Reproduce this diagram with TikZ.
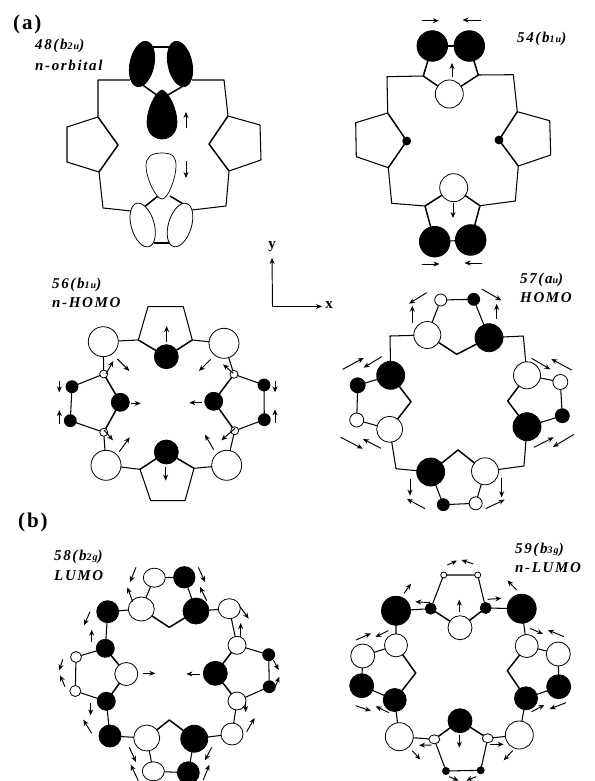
\documentclass[tikz,border=0pt]{standalone}
\usepackage{fontspec}
\setmainfont{Liberation Serif}
\newfontfamily\lblf[LetterSpace=11]{Liberation Serif}
\newfontfamily\hdf[LetterSpace=9]{Liberation Serif}
\usetikzlibrary{arrows.meta,shapes.geometric}
\tikzset{
  ln/.style={line width=1.05pt,line join=round},
  thk/.style={line width=1.5pt,line join=round},
  orb/.style={circle,draw=black,line width=0.8pt,inner sep=0pt,outer sep=0pt},
  lobe/.style={ellipse,draw=black,line width=0.8pt,inner sep=0pt,outer sep=0pt},
  mo/.style={line width=0.95pt,-{Stealth[length=6pt,width=5pt]}},
  lbl/.style={anchor=west,inner sep=0pt,font=\lblf\fontsize{15}{16}\selectfont\bfseries\itshape},
  hd/.style={anchor=west,inner sep=0pt,font=\hdf\fontsize{21}{22}\selectfont\bfseries},
  axl/.style={inner sep=0pt,font=\fontsize{15}{15}\selectfont\bfseries},
  zm/.style={x=0.33333pt,y=-0.33333pt}
}
\newcommand{\WA}[4]{\node[orb,fill=white,minimum size=2*#4 pt] (#1) at (#2,#3) {};}
\newcommand{\BA}[4]{\node[orb,fill=black,minimum size=2*#4 pt] (#1) at (#2,#3) {};}
\newcommand{\WE}[5]{\node[lobe,fill=white,minimum width=2*#4 pt,minimum height=2*#5 pt] (#1) at (#2,#3) {};}
\newcommand{\BE}[5]{\node[lobe,fill=black,minimum width=2*#4 pt,minimum height=2*#5 pt] (#1) at (#2,#3) {};}
\newcommand{\VT}[3]{\coordinate (#1) at (#2,#3);}
\newcommand{\AR}[4]{\draw[mo] (#1,#2) -- (#3,#4);}
\newcommand{\SB}[1]{{\fontsize{10}{10}\selectfont #1}}
\begin{document}
\begin{tikzpicture}[x=1pt,y=-1pt]
\useasboundingbox (0,0) rectangle (594,781);
\fill[white] (0,0) rectangle (594,781);

% ---- headings and labels
\node[hd] (ha) at (13,24) {(a)};
\node[hd] (hb) at (18,522) {(b)};
\node[lbl] (l48) at (35,46) {48(b\SB{2u})};
\node[lbl] (l48b) at (35,65) {n-orbital};
\node[lbl] (l54) at (517,39) {54(b\SB{1u})};
\node[lbl] (l56) at (52,285) {56(b\SB{1u})};
\node[lbl] (l56b) at (52,303) {n-HOMO};
\node[lbl] (l57) at (520,280) {57(a\SB{u})};
\node[lbl] (l57b) at (520,298) {HOMO};
\node[lbl] (l58) at (54,557) {58(b\SB{2g})};
\node[lbl] (l58b) at (54,576) {LUMO};
\node[lbl] (l59) at (515,550) {59(b\SB{3g})};
\node[lbl] (l59b) at (515,568) {n-LUMO};

% ---- axes
\coordinate (ax0) at (272.5,306.5);
\node[axl] (axy) at (272,247) {y};
\node[axl] (axx) at (329,305) {x};
\draw[mo] (ax0) -- (axy.south |- 0,258);
\draw[mo] (ax0) -- (322,306.5);

% ---- panel 48
\VT{p1}{130}{80}\VT{p2}{98}{80}\VT{p3}{98}{117}\VT{p4}{67}{127}\VT{p5}{67}{162}\VT{p6}{99}{172}\VT{p7}{118}{145}
\VT{p8}{103}{208}\VT{p9}{131}{211}\VT{p10}{192}{80}\VT{p11}{224}{80}\VT{p12}{228}{116}\VT{p13}{260}{125}\VT{p14}{261}{160}
\VT{p15}{229}{171}\VT{p16}{209}{144}\VT{p17}{226}{206}\VT{p18}{192}{210}
\VT{p19}{153}{47}\VT{p20}{169}{47}\VT{p21}{154}{243}\VT{p22}{170}{243}
\VT{p23}{140}{83}\VT{p24}{158}{96}\VT{p25}{166}{96}\VT{p26}{185}{85}
\VT{p27}{143}{208}\VT{p28}{158}{196}\VT{p29}{170}{196}\VT{p30}{185}{205}
\draw[ln] (p1) -- (p2) -- (p3) -- (p4) -- (p5) -- (p6) -- (p8) -- (p9);
\draw[ln] (p10) -- (p11) -- (p12) -- (p13) -- (p14) -- (p15) -- (p17) -- (p18);
\draw[thk] (p3) -- (p7) -- (p6);
\draw[thk] (p12) -- (p16) -- (p15);
\draw[ln] (p19) -- (p20);
\draw[ln] (p21) -- (p22);
\draw[thk] (p23) -- (p24);
\draw[thk] (p25) -- (p26);
\draw[thk] (p27) -- (p28);
\draw[thk] (p29) -- (p30);
\node[lobe,fill=black,minimum width=46pt,minimum height=24pt,rotate=78] (tl) at (142,64) {};
\node[lobe,fill=black,minimum width=46pt,minimum height=24pt,rotate=102] (tr) at (180,64) {};
\node[lobe,fill=white,minimum width=45pt,minimum height=23pt,rotate=106] (bl) at (142.7,225) {};
\node[lobe,fill=white,minimum width=45pt,minimum height=23pt,rotate=73] (br) at (180,225) {};
\draw[fill=black,line width=0.7pt] (162,90) .. controls (155,92) and (147,110) .. (147,122) .. controls (147,134) and (155,139) .. (162,139) .. controls (169,139) and (177,134) .. (177,122) .. controls (177,110) and (169,92) .. (162,90) -- cycle;
\draw[fill=white,line width=0.7pt] (162,153) .. controls (150,153) and (146,158) .. (146,166) .. controls (146,178) and (156,199) .. (162,199) .. controls (168,199) and (176,178) .. (176,166) .. controls (176,158) and (174,153) .. (162,153) -- cycle;
\AR{186}{128}{186}{112}
\AR{186}{161}{186}{178}

% ---- panel 54
\BA{a1}{432.3}{46}{15.3}\BA{a2}{469.3}{46}{15.3}\BA{a3}{434.7}{241.7}{15.3}\BA{a4}{470.7}{240}{15.3}
\WA{a5}{449.3}{94}{14}\WA{a6}{453.7}{187.7}{14}\BA{a7}{406.7}{141}{4}\BA{a8}{499}{140}{4}
\VT{q1}{423.3}{76}\VT{q2}{478.3}{75}\VT{q3}{387}{76.7}\VT{q4}{387.7}{113}\VT{q5}{355.7}{122.7}\VT{q6}{356.3}{156.7}
\VT{q7}{388.3}{167.7}\VT{q8}{391.7}{203.3}\VT{q9}{425}{206}\VT{q10}{480}{205.7}\VT{q11}{515.3}{201}\VT{q12}{518.3}{166}
\VT{q13}{550.7}{155}\VT{q14}{549.7}{120.7}\VT{q15}{517.3}{111.7}\VT{q16}{513.3}{74.7}
\draw[ln] (q1) -- (q3) -- (q4) -- (q5) -- (q6) -- (q7) -- (q8) -- (q9);
\draw[ln] (q10) -- (q11) -- (q12) -- (q13) -- (q14) -- (q15) -- (q16) -- (q2);
\draw[thk] (q4) -- (a7) -- (q7);
\draw[thk] (q15) -- (a8) -- (q12);
\draw[thk] (a1) -- (q1) -- (a5) -- (q2) -- (a2);
\draw[ln] (a1) -- (a2);
\draw[thk] (a3) -- (q9) -- (a6) -- (q10) -- (a4);
\draw[ln] (a3) -- (a4);
\AR{421.7}{20.7}{438.8}{20.7}\AR{480.7}{20}{462.5}{20}
\AR{452}{77}{452}{63}\AR{453}{203}{453}{218}
\AR{421.7}{264}{439.5}{264}\AR{482.3}{263}{464.5}{263}

% ---- panel 56
\BA{c1}{166.3}{356.7}{12}\BA{c2}{166.3}{452}{12}
\WA{c3}{103.3}{341.7}{15}\WA{c4}{224}{343.3}{15}\WA{c5}{106}{465.3}{15}\WA{c6}{226.7}{465.3}{15}
\WA{c7}{103.7}{374}{4}\WA{c8}{234}{374.3}{4}\WA{c9}{103.7}{432.3}{4}\WA{c10}{234.7}{430.7}{4}
\BA{c11}{120.3}{402.3}{9}\BA{c12}{213.7}{401.3}{9}
\BA{c13}{72}{386.7}{6}\BA{c14}{70.3}{420.7}{6}\BA{c15}{264}{385}{6}\BA{c16}{264.3}{419.7}{6}
\VT{r1}{148}{306.7}\VT{r2}{183.3}{306.7}\VT{r3}{192.3}{340}\VT{r4}{138.3}{340}
\VT{r5}{140}{469.3}\VT{r6}{194}{468.3}\VT{r7}{185}{500.7}\VT{r8}{150.7}{500.7}
\draw[ln] (c3) -- (r4) -- (r1) -- (r2) -- (r3) -- (c4);
\draw[ln] (c5) -- (r5) -- (r8) -- (r7) -- (r6) -- (c6);
\draw[thk] (r4) -- (c1) -- (r3);
\draw[thk] (r5) -- (c2) -- (r6);
\draw[ln] (c3) -- (c7) -- (c13) -- (c14) -- (c9) -- (c5);
\draw[ln] (c4) -- (c8) -- (c15) -- (c16) -- (c10) -- (c6);
\draw[thk] (c7) -- (c11) -- (c9);
\draw[thk] (c8) -- (c12) -- (c10);
\begin{scope}[shift={(0,260)},zm]
\AR{500}{245}{500}{198}\AR{178}{363}{178}{397}\AR{178}{492}{178}{450}\AR{825}{363}{825}{397}\AR{825}{490}{825}{448}
\AR{318}{342}{340}{303}\AR{352}{297}{388}{333}\AR{632}{298}{597}{333}\AR{700}{340}{669}{313}
\AR{392}{430}{422}{430}\AR{605}{428}{568}{428}\AR{358}{575}{389}{532}\AR{312}{510}{339}{541}
\AR{641}{569}{615}{524}\AR{705}{505}{664}{541}\AR{497}{620}{497}{662}
\end{scope}

% ---- panel 57
\WA{d1}{427.3}{335}{13.5}\BA{d2}{489}{337.7}{14}\WA{d3}{440.7}{300}{6}\BA{d4}{473.7}{299.3}{6}
\BA{d5}{390.7}{375.3}{14}\BA{d6}{357.7}{385.3}{7.5}\WA{d7}{356.7}{420}{7}\WA{d8}{389.7}{429.3}{13}
\BA{d9}{430.7}{472}{14}\WA{d10}{485}{471.3}{13.5}\BA{d11}{443.3}{504.7}{6}\WA{d12}{475.7}{503.3}{6.5}
\BA{d13}{527}{426.7}{14}\WA{d14}{527}{375.3}{13.5}\WA{d15}{560.3}{382}{7.5}\BA{d16}{562.3}{415.7}{7}
\VT{s1}{456.7}{354.3}\VT{s2}{390}{336}\VT{s3}{411}{401.7}\VT{s4}{396}{468.7}\VT{s5}{458}{450}\VT{s6}{524}{466}\VT{s7}{507.7}{401}\VT{s8}{523.3}{336}
\draw[ln] (d1) -- (s2) -- (d5);
\draw[ln] (d8) -- (s4) -- (d9);
\draw[ln] (d10) -- (s6) -- (d13);
\draw[ln] (d14) -- (s8) -- (d2);
\draw[ln] (d1) -- (d3) -- (d4) -- (d2);
\draw[thk] (d1) -- (s1) -- (d2);
\draw[ln] (d5) -- (d6) -- (d7) -- (d8);
\draw[thk] (d5) -- (s3) -- (d8);
\draw[ln] (d9) -- (d11) -- (d12) -- (d10);
\draw[thk] (d9) -- (s5) -- (d10);
\draw[ln] (d14) -- (d15) -- (d16) -- (d13);
\draw[thk] (d14) -- (s7) -- (d13);
\begin{scope}[shift={(320,270)},zm]
\AR{320}{68}{267}{101}\AR{485}{57}{544}{91}\AR{277}{160}{277}{107}\AR{530}{148}{530}{102}
\AR{635}{265}{691}{298}\AR{755}{300}{694}{267}\AR{68}{298}{131}{264}\AR{185}{260}{131}{293}
\AR{62}{502}{128}{536}\AR{183}{535}{129}{507}\AR{642}{532}{701}{502}\AR{762}{493}{699}{531}
\AR{270}{627}{270}{677}\AR{545}{625}{545}{682}\AR{315}{716}{261}{687}\AR{497}{716}{554}{689}
\end{scope}

% ---- panel 58
\WE{e1}{154.3}{577.7}{11}{9.5}\BA{e2}{184.3}{577.3}{10.7}\WE{e3}{141.3}{609}{13}{12}\BA{e4}{196}{611}{13}
\BA{e5}{107.7}{611.7}{11}\WE{e6}{229.3}{608.7}{11}{10}\BA{e7}{105.3}{648.3}{9}\WA{e8}{76}{657}{5.5}
\WA{e9}{75.3}{691}{5.5}\WA{e10}{126.3}{674}{11.5}\BA{e11}{106.3}{701.3}{9}\BA{e12}{110}{736}{11}
\WA{e13}{146.7}{738}{13}\BA{e14}{194.3}{738.7}{13.5}\WA{e15}{232}{734}{11}\WA{e16}{237}{701}{9}
\BA{e17}{215.3}{673.3}{12}\WA{e18}{237}{645.3}{9}\BA{e19}{268.7}{654.7}{6}\BA{e20}{269.3}{686.7}{6}
\WE{e21}{153.3}{771.3}{11}{9.5}\BA{e22}{188.3}{772.7}{11}
\VT{t1}{169.3}{627.3}\VT{t2}{169.3}{720}
\draw[ln] (e1) -- (e2) -- (e4) -- (e6) -- (e18) -- (e19) -- (e20) -- (e16) -- (e15) -- (e14) -- (e22) -- (e21) -- (e13) -- (e12) -- (e11) -- (e9) -- (e8) -- (e7) -- (e5) -- (e3) -- (e1);
\draw[thk] (e3) -- (t1) -- (e4);
\draw[thk] (e13) -- (t2) -- (e14);
\draw[thk] (e7) -- (e10) -- (e11);
\draw[thk] (e18) -- (e17) -- (e16);
\begin{scope}[shift={(0,510)},zm]
\AR{408}{172}{390}{216}\AR{595}{172}{615}{216}\AR{398}{275}{382}{232}\AR{620}{272}{600}{231}
\AR{270}{305}{252}{346}\AR{720}{290}{746}{326}\AR{275}{395}{275}{359}\AR{722}{380}{722}{339}
\AR{188}{448}{178}{481}\AR{195}{530}{180}{496}\AR{820}{450}{836}{480}\AR{822}{540}{838}{500}
\AR{428}{490}{466}{490}\AR{600}{492}{559}{492}\AR{272}{580}{272}{616}\AR{737}{575}{737}{606}
\AR{275}{670}{250}{629}\AR{740}{665}{764}{624}\AR{388}{712}{408}{756}\AR{415}{812}{392}{764}
\AR{635}{712}{615}{751}\AR{610}{810}{628}{764}
\end{scope}

% ---- panel 59
\WA{f1}{443.7}{575}{3}\WA{f2}{477.7}{575}{3}\BA{f3}{430.7}{608.7}{5.5}\BA{f4}{485.7}{608}{5.5}
\WA{f5}{460}{627.7}{12}\BA{f6}{396}{610.7}{14.5}\BA{f7}{521.7}{608.7}{14.5}\WA{f8}{396}{645.3}{11.5}
\WA{f9}{362.7}{656}{12}\BA{f10}{361.7}{685.7}{12}\BA{f11}{394.7}{700}{11.5}\WA{f12}{399.3}{736.7}{14}
\WE{f13}{434.3}{739.3}{5.5}{4.5}\WE{f14}{487.7}{738.3}{5.5}{4.5}\BA{f15}{460}{720.7}{12}\WA{f16}{519.3}{735}{14}
\BA{f17}{446}{771}{3.5}\BA{f18}{480.7}{770.3}{3.5}\BA{f19}{526}{698.3}{11.5}\WA{f20}{526.7}{646}{11.5}
\WA{f21}{558.3}{654}{12}\BA{f22}{558.7}{686.7}{12}
\VT{u1}{415.7}{673}\VT{u2}{507.3}{670.7}
\draw[ln] (f6) -- (f3) -- (f1) -- (f2) -- (f4) -- (f7) -- (f20) -- (f21) -- (f22) -- (f19) -- (f16) -- (f14) -- (f18) -- (f17) -- (f13) -- (f12) -- (f11) -- (f10) -- (f9) -- (f8) -- (f6);
\draw[thk] (f3) -- (f5) -- (f4);
\draw[thk] (f13) -- (f15) -- (f14);
\draw[thk] (f8) -- (u1) -- (f11);
\draw[thk] (f20) -- (u2) -- (f19);
\begin{scope}[shift={(320,510)},zm]
\AR{382}{165}{411}{152}\AR{460}{162}{424}{150}\AR{252}{250}{273}{221}\AR{590}{240}{562}{211}
\AR{330}{278}{286}{275}\AR{503}{268}{544}{265}\AR{418}{305}{418}{269}\AR{108}{390}{153}{370}
\AR{205}{362}{166}{381}\AR{630}{355}{669}{372}\AR{732}{380}{684}{360}\AR{107}{587}{153}{603}
\AR{207}{608}{167}{589}\AR{635}{605}{673}{585}\AR{738}{578}{689}{597}\AR{418}{675}{418}{713}
\AR{335}{705}{297}{706}\AR{510}{703}{551}{703}\AR{277}{722}{301}{749}\AR{578}{722}{551}{751}
\AR{388}{800}{416}{812}\AR{468}{800}{439}{812}
\end{scope}
\end{tikzpicture}
\end{document}
